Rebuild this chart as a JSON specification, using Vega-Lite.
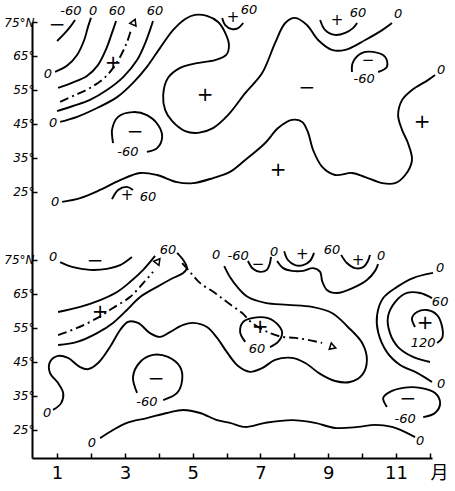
{
"$schema": "https://vega.github.io/schema/vega-lite/v6.json",
"width": 400, "height": 436,
"autosize": {"type": "none"},
"padding": {"left": 32, "top": 22, "right": 23, "bottom": 33},
"background": "white",
"config": {"view": {"stroke": null}, "font": "DejaVu Sans"},
"datasets": {
"lines": [
{"id":"T1","o":1,"m":1.00,"lat":139.4},{"id":"T1","o":2,"m":1.18,"lat":141.2},{"id":"T1","o":3,"m":1.38,"lat":143.5},{"id":"T1","o":4,"m":1.53,"lat":145.6},
{"id":"T2","o":1,"m":0.94,"lat":130.3},{"id":"T2","o":2,"m":1.29,"lat":132.1},{"id":"T2","o":3,"m":1.59,"lat":135.3},{"id":"T2","o":4,"m":1.80,"lat":139.7},{"id":"T2","o":5,"m":1.91,"lat":143.5},{"id":"T2","o":6,"m":2.00,"lat":146.2},
{"id":"T3","o":1,"m":1.03,"lat":125.6},{"id":"T3","o":2,"m":1.44,"lat":127.1},{"id":"T3","o":3,"m":1.88,"lat":129.1},{"id":"T3","o":4,"m":2.21,"lat":132.4},{"id":"T3","o":5,"m":2.45,"lat":137.1},{"id":"T3","o":6,"m":2.62,"lat":141.8},{"id":"T3","o":7,"m":2.74,"lat":145.3},
{"id":"T5","o":1,"m":1.00,"lat":118.8},{"id":"T5","o":2,"m":1.47,"lat":120.3},{"id":"T5","o":3,"m":1.97,"lat":122.1},{"id":"T5","o":4,"m":2.47,"lat":125.0},{"id":"T5","o":5,"m":2.95,"lat":128.8},{"id":"T5","o":6,"m":3.36,"lat":133.8},{"id":"T5","o":7,"m":3.60,"lat":138.8},{"id":"T5","o":8,"m":3.74,"lat":142.6},{"id":"T5","o":9,"m":3.83,"lat":145.3},
{"id":"T6","o":1,"m":1.09,"lat":115.6},{"id":"T6","o":2,"m":1.59,"lat":117.1},{"id":"T6","o":3,"m":2.18,"lat":119.7},{"id":"T6","o":4,"m":2.77,"lat":122.9},{"id":"T6","o":5,"m":3.24,"lat":127.1},{"id":"T6","o":6,"m":3.65,"lat":131.8},{"id":"T6","o":7,"m":4.04,"lat":137.4},{"id":"T6","o":8,"m":4.42,"lat":142.6},{"id":"T6","o":9,"m":4.78,"lat":145.9},{"id":"T6","o":10,"m":5.07,"lat":147.1},{"id":"T6","o":11,"m":5.42,"lat":146.8},{"id":"T6","o":12,"m":5.75,"lat":145.0},{"id":"T6","o":13,"m":5.96,"lat":141.8},{"id":"T6","o":14,"m":6.07,"lat":138.2},{"id":"T6","o":15,"m":5.99,"lat":135.3},{"id":"T6","o":16,"m":5.66,"lat":133.8},{"id":"T6","o":17,"m":5.13,"lat":132.9},{"id":"T6","o":18,"m":4.63,"lat":131.5},{"id":"T6","o":19,"m":4.27,"lat":128.5},{"id":"T6","o":20,"m":4.13,"lat":123.5},{"id":"T6","o":21,"m":4.19,"lat":119.1},{"id":"T6","o":22,"m":4.39,"lat":115.9},{"id":"T6","o":23,"m":4.78,"lat":112.9},{"id":"T6","o":24,"m":5.16,"lat":112.4},{"id":"T6","o":25,"m":5.60,"lat":113.8},{"id":"T6","o":26,"m":6.04,"lat":117.6},{"id":"T6","o":27,"m":6.55,"lat":124.1},{"id":"T6","o":28,"m":7.05,"lat":130.0},{"id":"T6","o":29,"m":7.43,"lat":138.8},{"id":"T6","o":30,"m":7.73,"lat":144.7},{"id":"T6","o":31,"m":8.02,"lat":146.2},{"id":"T6","o":32,"m":8.37,"lat":144.1},{"id":"T6","o":33,"m":8.70,"lat":139.7},{"id":"T6","o":34,"m":9.11,"lat":136.8},{"id":"T6","o":35,"m":9.50,"lat":136.8},{"id":"T6","o":36,"m":10.09,"lat":139.7},{"id":"T6","o":37,"m":10.59,"lat":142.6},{"id":"T6","o":38,"m":10.88,"lat":144.7},
{"id":"T7","o":1,"m":3.65,"lat":106.8},{"id":"T7","o":2,"m":3.95,"lat":107.9},{"id":"T7","o":3,"m":4.10,"lat":111.2},{"id":"T7","o":4,"m":3.98,"lat":114.7},{"id":"T7","o":5,"m":3.65,"lat":117.6},{"id":"T7","o":6,"m":3.24,"lat":118.5},{"id":"T7","o":7,"m":2.80,"lat":117.1},{"id":"T7","o":8,"m":2.62,"lat":113.2},{"id":"T7","o":9,"m":2.65,"lat":109.4},
{"id":"T8","o":1,"m":2.62,"lat":92.9},{"id":"T8","o":2,"m":2.80,"lat":95.6},{"id":"T8","o":3,"m":3.06,"lat":96.5},{"id":"T8","o":4,"m":3.24,"lat":95.6},
{"id":"T9","o":1,"m":1.15,"lat":92.1},{"id":"T9","o":2,"m":1.68,"lat":93.2},{"id":"T9","o":3,"m":2.27,"lat":95.6},{"id":"T9","o":4,"m":2.86,"lat":98.5},{"id":"T9","o":5,"m":3.45,"lat":100.6},{"id":"T9","o":6,"m":3.95,"lat":100.0},{"id":"T9","o":7,"m":4.54,"lat":97.9},{"id":"T9","o":8,"m":5.01,"lat":97.6},{"id":"T9","o":9,"m":5.60,"lat":99.1},{"id":"T9","o":10,"m":6.10,"lat":100.9},{"id":"T9","o":11,"m":6.55,"lat":104.4},{"id":"T9","o":12,"m":7.14,"lat":109.4},{"id":"T9","o":13,"m":7.52,"lat":113.8},{"id":"T9","o":14,"m":7.93,"lat":116.2},{"id":"T9","o":15,"m":8.23,"lat":115.6},{"id":"T9","o":16,"m":8.40,"lat":112.6},{"id":"T9","o":17,"m":8.55,"lat":107.4},{"id":"T9","o":18,"m":8.82,"lat":102.4},{"id":"T9","o":19,"m":9.20,"lat":100.0},{"id":"T9","o":20,"m":9.70,"lat":100.6},{"id":"T9","o":21,"m":10.09,"lat":99.4},{"id":"T9","o":22,"m":10.59,"lat":97.6},{"id":"T9","o":23,"m":10.97,"lat":97.6},{"id":"T9","o":24,"m":11.27,"lat":100.0},{"id":"T9","o":25,"m":11.47,"lat":104.4},{"id":"T9","o":26,"m":11.35,"lat":109.4},{"id":"T9","o":27,"m":11.18,"lat":113.2},{"id":"T9","o":28,"m":11.06,"lat":117.6},{"id":"T9","o":29,"m":11.18,"lat":122.1},{"id":"T9","o":30,"m":11.47,"lat":125.0},{"id":"T9","o":31,"m":11.94,"lat":127.9},{"id":"T9","o":32,"m":12.15,"lat":129.4},
{"id":"T10","o":1,"m":5.87,"lat":146.2},{"id":"T10","o":2,"m":5.96,"lat":144.1},{"id":"T10","o":3,"m":6.16,"lat":142.9},{"id":"T10","o":4,"m":6.34,"lat":143.2},{"id":"T10","o":5,"m":6.49,"lat":144.7},
{"id":"T11","o":1,"m":8.76,"lat":145.6},{"id":"T11","o":2,"m":8.91,"lat":142.6},{"id":"T11","o":3,"m":9.20,"lat":141.2},{"id":"T11","o":4,"m":9.50,"lat":141.8},{"id":"T11","o":5,"m":9.73,"lat":143.2},{"id":"T11","o":6,"m":9.85,"lat":144.7},
{"id":"T12","o":1,"m":10.47,"lat":130.3},{"id":"T12","o":2,"m":10.73,"lat":131.8},{"id":"T12","o":3,"m":10.68,"lat":134.7},{"id":"T12","o":4,"m":10.32,"lat":136.2},{"id":"T12","o":5,"m":10.00,"lat":135.9},{"id":"T12","o":6,"m":9.73,"lat":133.2},{"id":"T12","o":7,"m":9.70,"lat":130.3},
{"id":"B1","o":1,"m":1.09,"lat":74.4},{"id":"B1","o":2,"m":1.47,"lat":72.9},{"id":"B1","o":3,"m":1.97,"lat":72.1},{"id":"B1","o":4,"m":2.47,"lat":72.4},{"id":"B1","o":5,"m":2.86,"lat":73.5},{"id":"B1","o":6,"m":3.21,"lat":75.9},
{"id":"B2a","o":1,"m":1.03,"lat":59.7},{"id":"B2a","o":2,"m":1.68,"lat":61.2},{"id":"B2a","o":3,"m":2.27,"lat":63.2},{"id":"B2a","o":4,"m":2.77,"lat":65.6},{"id":"B2a","o":5,"m":3.15,"lat":68.5},{"id":"B2a","o":6,"m":3.54,"lat":72.1},{"id":"B2a","o":7,"m":3.89,"lat":76.2},
{"id":"B2b","o":1,"m":4.54,"lat":77.1},{"id":"B2b","o":2,"m":4.72,"lat":75.0},{"id":"B2b","o":3,"m":4.83,"lat":72.6},{"id":"B2b","o":4,"m":4.72,"lat":71.2},{"id":"B2b","o":5,"m":4.42,"lat":69.7},{"id":"B2b","o":6,"m":3.95,"lat":67.1},{"id":"B2b","o":7,"m":3.45,"lat":64.1},{"id":"B2b","o":8,"m":3.06,"lat":60.3},{"id":"B2b","o":9,"m":2.65,"lat":56.5},{"id":"B2b","o":10,"m":2.18,"lat":53.5},{"id":"B2b","o":11,"m":1.59,"lat":50.9},{"id":"B2b","o":12,"m":1.03,"lat":50.0},
{"id":"B5","o":1,"m":0.88,"lat":30.9},{"id":"B5","o":2,"m":1.12,"lat":32.9},{"id":"B5","o":3,"m":1.18,"lat":35.9},{"id":"B5","o":4,"m":1.03,"lat":38.8},{"id":"B5","o":5,"m":0.79,"lat":41.8},{"id":"B5","o":6,"m":0.79,"lat":45.0},{"id":"B5","o":7,"m":1.03,"lat":46.8},{"id":"B5","o":8,"m":1.32,"lat":46.2},{"id":"B5","o":9,"m":1.68,"lat":43.5},{"id":"B5","o":10,"m":1.91,"lat":42.9},{"id":"B5","o":11,"m":2.21,"lat":44.7},{"id":"B5","o":12,"m":2.56,"lat":49.4},{"id":"B5","o":13,"m":2.86,"lat":54.4},{"id":"B5","o":14,"m":3.09,"lat":56.8},{"id":"B5","o":15,"m":3.39,"lat":56.5},{"id":"B5","o":16,"m":3.74,"lat":53.5},{"id":"B5","o":17,"m":4.04,"lat":52.4},{"id":"B5","o":18,"m":4.33,"lat":53.8},{"id":"B5","o":19,"m":4.72,"lat":55.9},{"id":"B5","o":20,"m":5.01,"lat":56.5},{"id":"B5","o":21,"m":5.42,"lat":55.3},{"id":"B5","o":22,"m":5.72,"lat":52.1},{"id":"B5","o":23,"m":6.01,"lat":47.9},{"id":"B5","o":24,"m":6.34,"lat":43.8},{"id":"B5","o":25,"m":6.69,"lat":42.1},{"id":"B5","o":26,"m":7.05,"lat":43.2},{"id":"B5","o":27,"m":7.43,"lat":45.6},{"id":"B5","o":28,"m":7.93,"lat":46.2},{"id":"B5","o":29,"m":8.32,"lat":44.7},{"id":"B5","o":30,"m":8.76,"lat":41.5},{"id":"B5","o":31,"m":9.20,"lat":39.4},{"id":"B5","o":32,"m":9.64,"lat":39.1},{"id":"B5","o":33,"m":10.00,"lat":41.2},{"id":"B5","o":34,"m":10.14,"lat":45.6},{"id":"B5","o":35,"m":10.00,"lat":50.6},{"id":"B5","o":36,"m":9.58,"lat":55.3},{"id":"B5","o":37,"m":9.11,"lat":59.4},{"id":"B5","o":38,"m":8.52,"lat":61.2},{"id":"B5","o":39,"m":7.81,"lat":61.8},{"id":"B5","o":40,"m":7.14,"lat":62.4},{"id":"B5","o":41,"m":6.63,"lat":64.1},{"id":"B5","o":42,"m":6.34,"lat":66.8},{"id":"B5","o":43,"m":6.10,"lat":70.0},{"id":"B5","o":44,"m":5.93,"lat":73.2},
{"id":"B6","o":1,"m":7.49,"lat":74.7},{"id":"B6","o":2,"m":7.67,"lat":72.6},{"id":"B6","o":3,"m":7.93,"lat":71.8},{"id":"B6","o":4,"m":8.26,"lat":71.8},{"id":"B6","o":5,"m":8.55,"lat":72.6},{"id":"B6","o":6,"m":8.76,"lat":71.5},{"id":"B6","o":7,"m":8.82,"lat":68.8},{"id":"B6","o":8,"m":8.96,"lat":66.2},{"id":"B6","o":9,"m":9.26,"lat":65.3},{"id":"B6","o":10,"m":9.73,"lat":66.8},{"id":"B6","o":11,"m":10.14,"lat":69.1},{"id":"B6","o":12,"m":10.38,"lat":71.8},{"id":"B6","o":13,"m":10.47,"lat":73.8},
{"id":"B7","o":1,"m":6.63,"lat":74.7},{"id":"B7","o":2,"m":6.78,"lat":72.4},{"id":"B7","o":3,"m":6.99,"lat":71.5},{"id":"B7","o":4,"m":7.19,"lat":72.1},{"id":"B7","o":5,"m":7.28,"lat":74.1},{"id":"B7","o":6,"m":7.31,"lat":75.9},
{"id":"B8","o":1,"m":7.70,"lat":77.6},{"id":"B8","o":2,"m":7.81,"lat":75.0},{"id":"B8","o":3,"m":8.02,"lat":73.5},{"id":"B8","o":4,"m":8.26,"lat":73.5},{"id":"B8","o":5,"m":8.46,"lat":74.7},{"id":"B8","o":6,"m":8.58,"lat":77.1},
{"id":"B9","o":1,"m":9.38,"lat":76.5},{"id":"B9","o":2,"m":9.55,"lat":74.1},{"id":"B9","o":3,"m":9.79,"lat":72.6},{"id":"B9","o":4,"m":10.03,"lat":72.9},{"id":"B9","o":5,"m":10.17,"lat":74.7},{"id":"B9","o":6,"m":10.23,"lat":76.5},
{"id":"B10","o":1,"m":3.36,"lat":35.9},{"id":"B10","o":2,"m":3.24,"lat":40.6},{"id":"B10","o":3,"m":3.45,"lat":45.0},{"id":"B10","o":4,"m":3.83,"lat":47.1},{"id":"B10","o":5,"m":4.27,"lat":46.5},{"id":"B10","o":6,"m":4.63,"lat":43.5},{"id":"B10","o":7,"m":4.69,"lat":39.7},{"id":"B10","o":8,"m":4.54,"lat":35.9},{"id":"B10","o":9,"m":4.13,"lat":33.8},
{"id":"B11","o":1,"m":2.27,"lat":22.6},{"id":"B11","o":2,"m":2.65,"lat":25.0},{"id":"B11","o":3,"m":3.06,"lat":27.1},{"id":"B11","o":4,"m":3.65,"lat":28.5},{"id":"B11","o":5,"m":4.24,"lat":30.0},{"id":"B11","o":6,"m":4.72,"lat":30.9},{"id":"B11","o":7,"m":5.22,"lat":30.0},{"id":"B11","o":8,"m":5.72,"lat":27.9},{"id":"B11","o":9,"m":6.10,"lat":27.1},{"id":"B11","o":10,"m":6.55,"lat":25.9},{"id":"B11","o":11,"m":7.14,"lat":27.1},{"id":"B11","o":12,"m":7.93,"lat":27.9},{"id":"B11","o":13,"m":8.61,"lat":27.1},{"id":"B11","o":14,"m":9.20,"lat":25.6},{"id":"B11","o":15,"m":9.88,"lat":25.9},{"id":"B11","o":16,"m":10.38,"lat":26.5},{"id":"B11","o":17,"m":10.88,"lat":25.9},{"id":"B11","o":18,"m":11.27,"lat":24.4},{"id":"B11","o":19,"m":11.56,"lat":22.9},
{"id":"B12","o":1,"m":12.09,"lat":71.2},{"id":"B12","o":2,"m":11.50,"lat":69.7},{"id":"B12","o":3,"m":11.03,"lat":67.1},{"id":"B12","o":4,"m":10.62,"lat":63.8},{"id":"B12","o":5,"m":10.44,"lat":58.8},{"id":"B12","o":6,"m":10.47,"lat":53.8},{"id":"B12","o":7,"m":10.73,"lat":47.9},{"id":"B12","o":8,"m":11.12,"lat":44.1},{"id":"B12","o":9,"m":11.62,"lat":41.8},{"id":"B12","o":10,"m":12.06,"lat":39.1},
{"id":"B13","o":1,"m":12.06,"lat":63.8},{"id":"B13","o":2,"m":11.71,"lat":65.3},{"id":"B13","o":3,"m":11.32,"lat":65.3},{"id":"B13","o":4,"m":10.97,"lat":62.6},{"id":"B13","o":5,"m":10.76,"lat":58.2},{"id":"B13","o":6,"m":10.82,"lat":53.5},{"id":"B13","o":7,"m":11.06,"lat":49.4},{"id":"B13","o":8,"m":11.50,"lat":46.5},{"id":"B13","o":9,"m":12.00,"lat":45.0},
{"id":"B14","o":1,"m":11.56,"lat":55.3},{"id":"B14","o":2,"m":11.47,"lat":57.9},{"id":"B14","o":3,"m":11.62,"lat":59.7},{"id":"B14","o":4,"m":11.91,"lat":60.3},{"id":"B14","o":5,"m":12.21,"lat":58.8},{"id":"B14","o":6,"m":12.36,"lat":55.3},{"id":"B14","o":7,"m":12.36,"lat":52.1},{"id":"B14","o":8,"m":12.21,"lat":50.6},
{"id":"B15","o":1,"m":10.73,"lat":31.8},{"id":"B15","o":2,"m":10.62,"lat":34.4},{"id":"B15","o":3,"m":10.82,"lat":36.2},{"id":"B15","o":4,"m":11.21,"lat":37.4},{"id":"B15","o":5,"m":11.71,"lat":37.4},{"id":"B15","o":6,"m":12.15,"lat":35.9},{"id":"B15","o":7,"m":12.30,"lat":32.9},{"id":"B15","o":8,"m":12.15,"lat":30.0},{"id":"B15","o":9,"m":11.80,"lat":28.8},
{"id":"B16","o":1,"m":6.55,"lat":50.9},{"id":"B16","o":2,"m":6.40,"lat":53.8},{"id":"B16","o":3,"m":6.49,"lat":56.8},{"id":"B16","o":4,"m":6.75,"lat":57.9},{"id":"B16","o":5,"m":7.22,"lat":57.9},{"id":"B16","o":6,"m":7.52,"lat":55.9},{"id":"B16","o":7,"m":7.64,"lat":53.5},{"id":"B16","o":8,"m":7.52,"lat":50.9},{"id":"B16","o":9,"m":7.28,"lat":49.4}
],
"dash": [
{"id":"D1","o":1,"m":1.09,"lat":121.5},{"id":"D1","o":2,"m":1.53,"lat":123.5},{"id":"D1","o":3,"m":1.97,"lat":125.6},{"id":"D1","o":4,"m":2.42,"lat":128.8},{"id":"D1","o":5,"m":2.77,"lat":133.2},{"id":"D1","o":6,"m":3.04,"lat":138.5},{"id":"D1","o":7,"m":3.18,"lat":142.6},
{"id":"D2","o":1,"m":1.03,"lat":52.9},{"id":"D2","o":2,"m":1.59,"lat":55.0},{"id":"D2","o":3,"m":2.18,"lat":57.9},{"id":"D2","o":4,"m":2.65,"lat":60.9},{"id":"D2","o":5,"m":3.15,"lat":64.1},{"id":"D2","o":6,"m":3.54,"lat":68.2},{"id":"D2","o":7,"m":3.83,"lat":71.5},
{"id":"D3","o":1,"m":4.69,"lat":74.1},{"id":"D3","o":2,"m":4.92,"lat":71.5},{"id":"D3","o":3,"m":5.22,"lat":68.2},{"id":"D3","o":4,"m":5.66,"lat":65.3},{"id":"D3","o":5,"m":6.04,"lat":62.4},{"id":"D3","o":6,"m":6.46,"lat":59.4},{"id":"D3","o":7,"m":6.75,"lat":56.5},{"id":"D3","o":8,"m":7.28,"lat":53.5},{"id":"D3","o":9,"m":7.64,"lat":52.4},{"id":"D3","o":10,"m":8.02,"lat":52.1},{"id":"D3","o":11,"m":8.40,"lat":51.5},{"id":"D3","o":12,"m":8.82,"lat":50.6}
],
"arrows": [
{"m":3.27,"lat":145.0,"dir":23},
{"m":3.98,"lat":74.7,"dir":38},
{"m":9.14,"lat":49.4,"dir":108}
],
"labels": [
{"t":"-60","m":1.41,"lat":148.2},{"t":"0","m":2.06,"lat":148.2},{"t":"60","m":2.77,"lat":148.2},{"t":"60","m":3.89,"lat":148.2},
{"t":"0","m":0.73,"lat":129.7},{"t":"0","m":0.88,"lat":115.3},{"t":"-60","m":3.09,"lat":106.8},{"t":"60","m":3.68,"lat":93.5},{"t":"0","m":0.94,"lat":92.1},
{"t":"0","m":12.33,"lat":130.9},{"t":"60","m":6.66,"lat":148.5},{"t":"60","m":9.88,"lat":147.6},{"t":"0","m":11.06,"lat":147.4},{"t":"-60","m":10.06,"lat":128.2},
{"t":"0","m":0.88,"lat":75.9},{"t":"60","m":4.27,"lat":77.9},{"t":"0","m":5.69,"lat":76.5},{"t":"-60","m":6.34,"lat":76.2},{"t":"0","m":7.40,"lat":77.4},{"t":"60","m":9.11,"lat":77.9},{"t":"0","m":10.56,"lat":76.2},
{"t":"0","m":12.30,"lat":72.6},{"t":"60","m":12.30,"lat":62.6},{"t":"120","m":11.80,"lat":50.6},{"t":"0","m":12.33,"lat":38.5},{"t":"-60","m":11.27,"lat":28.2},
{"t":"60","m":6.90,"lat":48.7},{"t":"-60","m":3.65,"lat":33.2},{"t":"0","m":0.71,"lat":30.0},{"t":"0","m":2.03,"lat":21.2},{"t":"0","m":11.71,"lat":21.8}
],
"signs": [
{"s":"−","m":1.00,"lat":144.1},{"s":"+","m":2.65,"lat":132.9},{"s":"+","m":5.37,"lat":123.5},{"s":"−","m":3.30,"lat":112.6},{"s":"−","m":8.37,"lat":125.6},{"s":"+","m":7.52,"lat":101.5},{"s":"+","m":11.77,"lat":115.6},
{"s":"−","m":2.12,"lat":74.7},{"s":"+","m":2.27,"lat":59.7},{"s":"−","m":3.92,"lat":40.0},{"s":"+","m":6.99,"lat":55.2},{"s":"+","m":11.86,"lat":56.6},{"s":"−","m":11.35,"lat":34.2}
],
"smallSigns": [
{"s":"+","m":3.06,"lat":94.1},{"s":"+","m":6.19,"lat":146.5},{"s":"+","m":9.26,"lat":145.6},{"s":"−","m":10.17,"lat":133.9},
{"s":"+","m":8.23,"lat":76.8},{"s":"+","m":9.88,"lat":75.0},{"s":"−","m":6.93,"lat":73.8}
]
},
"encoding": {
"x": {"field":"m","type":"quantitative","scale":{"domain":[0.26,12.06],"nice":false,"zero":false},
 "axis":{"values":[1,2,3,4,5,6,7,8,9,10,11,12],"title":null,"grid":false,"domainColor":"black","domainWidth":2,"tickColor":"black","tickWidth":1.5,"tickSize":-5,
 "labelExpr":"datum.value == 12 ? '月' : (datum.value % 2 == 1 ? '' + datum.value : '')",
 "labelFont":"DejaVu Sans, Noto Sans CJK SC","labelFontSize":18,"labelColor":"black","labelPadding":11,"labelFlush":false,"labelOverlap":false,"labelBound":false,
 "labelAlign":{"condition":{"test":"datum.value == 12","value":"left"},"value":"center"}}},
"y": {"field":"lat","type":"quantitative","scale":{"domain":[16.76,145],"nice":false,"zero":false},
 "axis":{"values":[25,35,45,55,65,75,95,105,115,125,135,145],"title":null,"grid":false,"domainColor":"black","domainWidth":2,"tickColor":"black","tickWidth":1.5,"tickSize":-5,
 "labelExpr":"(datum.value > 85 ? datum.value - 70 : datum.value) + '°' + ((datum.value == 75 || datum.value == 145) ? 'N' : '')",
 "labelFont":"DejaVu Sans","labelFontSize":12,"labelFontStyle":"italic","labelColor":"black","labelPadding":3,"labelFlush":false,"labelOverlap":false,"labelBound":false}}
},
"layer": [
{"data":{"name":"lines"},"mark":{"type":"line","interpolate":"catmull-rom","stroke":"black","strokeWidth":1.9},
 "encoding":{"detail":{"field":"id"},"order":{"field":"o","type":"quantitative"}}},
{"data":{"name":"dash"},"mark":{"type":"line","interpolate":"catmull-rom","stroke":"black","strokeWidth":1.9,"strokeDash":[9,4,2,4]},
 "encoding":{"detail":{"field":"id"},"order":{"field":"o","type":"quantitative"}}},
{"data":{"name":"arrows"},"mark":{"type":"point","shape":"triangle-up","filled":true,"fill":"white","stroke":"black","strokeWidth":1.5,"size":45,"opacity":1},
 "encoding":{"angle":{"field":"dir","type":"quantitative","scale":null}}},
{"data":{"name":"labels"},"mark":{"type":"text","font":"DejaVu Sans","fontSize":13,"fontStyle":"italic","align":"center","baseline":"middle","color":"black"},
 "encoding":{"text":{"field":"t"}}},
{"data":{"name":"signs"},"mark":{"type":"text","font":"DejaVu Sans","fontSize":20,"align":"center","baseline":"middle","color":"black"},
 "encoding":{"text":{"field":"s"}}},
{"data":{"name":"smallSigns"},"mark":{"type":"text","font":"DejaVu Sans","fontSize":15,"align":"center","baseline":"middle","color":"black"},
 "encoding":{"text":{"field":"s"}}}
]
}
